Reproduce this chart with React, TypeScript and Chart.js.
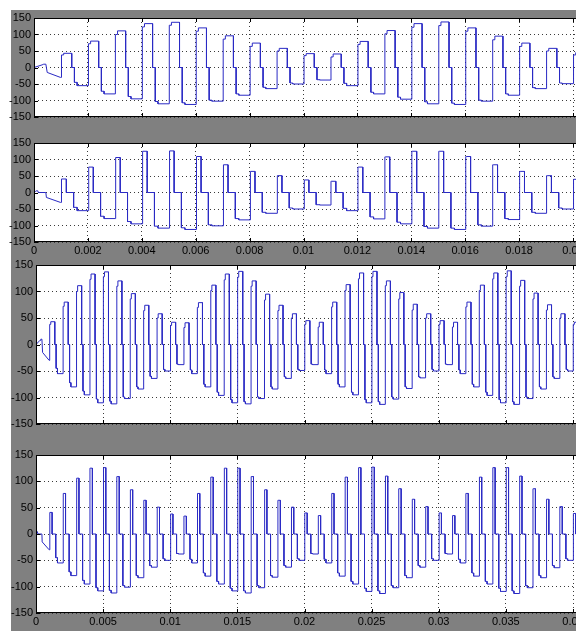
import React, { useEffect, useRef } from 'react';
import { Chart, registerables } from 'chart.js';

Chart.register(...registerables);

// ---------- axis ticks ----------
const Y_TICKS = [-150, -100, -50, 0, 50, 100, 150];
const Y_TICK_LABELS = ['-150', '-100', '-50', '0', '50', '100', '150'];
const X_TICKS_SHORT = [0, 0.002, 0.004, 0.006, 0.008, 0.01, 0.012, 0.014, 0.016, 0.018, 0.02];
const X_LABELS_SHORT = ['0', '0.002', '0.004', '0.006', '0.008', '0.01', '0.012', '0.014', '0.016', '0.018', '0.02'];
const X_TICKS_LONG = [0, 0.005, 0.01, 0.015, 0.02, 0.025, 0.03, 0.035, 0.04];
const X_LABELS_LONG = ['0', '0.005', '0.01', '0.015', '0.02', '0.025', '0.03', '0.035', '0.04'];

// ---------- waveform data (one pulse pair per 1 ms slot) ----------
const SLOT_PERIOD = 0.001;

// start-up transient (slot 0)
const A_START_T = [0, 0.0003, 0.00036, 0.00044, 0.00049, 0.00098];
const A_START_V = [0, 8, 10, 10, -15, -30];
const B_START_T = [0, 0.00005, 0.00008, 0.00014, 0.00016, 0.00044, 0.00046, 0.00098];
const B_START_V = [0, 3, 5, 5, 0, 0, -15, -30];

// edge times inside a slot: rise, step-up, fall to 0, negative start, negative step
const A_OFFSETS = [0.00002, 0.0001, 0.0004, 0.0005, 0.0006];
const B_OFFSETS = [0.00002, 0.00004, 0.0002, 0.00047, 0.0006];

// signal A (panels 1 and 3)
const A_POS_FIRST = [
  0, 38, 72, 100, 123, 128, 110, 86, 64, 50,
  36, 32, 70, 102, 122, 127, 110, 84, 64, 50,
  38, 33, 71, 102, 124, 128, 111, 86, 65, 50,
  38, 33, 71, 102, 124, 128, 110, 86, 65, 50,
  38,
];
const A_POS_PEAK = [
  0, 43, 80, 111, 133, 137, 120, 96, 74, 58,
  42, 41, 79, 112, 133, 138, 120, 95, 74, 58,
  45, 42, 80, 113, 135, 138, 120, 98, 76, 58,
  45, 42, 80, 112, 135, 139, 121, 97, 75, 58,
  42,
];
const A_NEG_FIRST = [
  -15, -45, -72, -88, -103, -107, -99, -80, -60, -47,
  -37, -48, -75, -90, -104, -108, -99, -80, -61, -47,
  -37, -48, -75, -90, -104, -108, -99, -80, -61, -47,
  -37, -48, -75, -90, -104, -108, -99, -80, -61, -47,
  -37,
];
const A_NEG_PEAK = [
  -30, -55, -80, -95, -110, -112, -102, -84, -64, -50,
  -38, -55, -80, -96, -110, -112, -102, -84, -64, -49,
  -38, -55, -80, -95, -110, -113, -103, -83, -63, -50,
  -38, -55, -80, -96, -110, -113, -102, -84, -64, -50,
  -38,
];

// signal B (panels 2 and 4)
const B_POS_PEAK = [
  0, 41, 77, 106, 125, 126, 109, 84, 64, 51,
  38, 34, 77, 108, 125, 125, 109, 84, 64, 51,
  40, 35, 77, 108, 126, 127, 110, 86, 66, 52,
  40, 35, 77, 108, 126, 126, 110, 86, 66, 52,
  39,
];
const B_NEG_FIRST = [
  -15, -45, -72, -88, -102, -107, -98, -79, -60, -47,
  -37, -48, -74, -90, -103, -108, -98, -79, -60, -47,
  -37, -48, -74, -90, -103, -108, -98, -79, -60, -47,
  -37, -48, -74, -90, -103, -108, -98, -79, -60, -47,
  -37,
];
const B_NEG_PEAK = [
  -30, -55, -79, -95, -108, -112, -101, -83, -63, -50,
  -38, -55, -80, -95, -108, -112, -102, -82, -63, -50,
  -38, -55, -80, -95, -109, -113, -102, -83, -63, -50,
  -38, -55, -80, -95, -109, -113, -102, -83, -64, -50,
  -38,
];

// ---------- style / layout ----------
const LINE_COLOR = '#2a2ac4';
const GRID_COLOR = '#3a3a3a';
const GRAY = '#808080';
const FONT = { family: '"Liberation Sans", Arial, sans-serif', size: 11 };
const PAD_T = 10;
const PAD_B = 10;
const AREA_RIGHT = 585;
const CANVAS_W = 600;

type Pt = { x: number; y: number };

function buildWave(
  startT: number[], startV: number[], offsets: number[],
  posFirst: number[], posPeak: number[], negFirst: number[], negPeak: number[],
  lastSlot: number
): Pt[] {
  const pts: Pt[] = startT.map((t, i) => ({ x: t, y: startV[i] }));
  let prev = startV[startV.length - 1];
  const [rise, step, fall, neg, negStep] = offsets;
  for (let k = 1; k <= lastSlot; k++) {
    const base = k * SLOT_PERIOD;
    pts.push(
      { x: base + rise, y: prev },
      { x: base + rise, y: posFirst[k] },
      { x: base + step, y: posFirst[k] },
      { x: base + step, y: posPeak[k] },
      { x: base + fall, y: posPeak[k] },
      { x: base + fall, y: 0 },
      { x: base + neg, y: 0 },
      { x: base + neg, y: negFirst[k] },
      { x: base + negStep, y: negFirst[k] },
      { x: base + negStep, y: negPeak[k] },
      { x: base + SLOT_PERIOD + rise, y: negPeak[k] }
    );
    prev = negPeak[k];
  }
  return pts;
}

const framePlugin = {
  id: 'matlabFrame',
  beforeDraw(chart: any) {
    const { ctx, chartArea: a } = chart;
    ctx.save();
    ctx.fillStyle = '#ffffff';
    ctx.fillRect(a.left, a.top, a.right - a.left, a.bottom - a.top);
    ctx.restore();
  },
  afterDraw(chart: any) {
    const { ctx, chartArea: a, scales } = chart;
    ctx.save();
    ctx.strokeStyle = '#000';
    ctx.lineWidth = 1;
    ctx.strokeRect(a.left + 0.5, a.top + 0.5, a.right - a.left - 1, a.bottom - a.top - 1);
    ctx.beginPath();
    for (const t of scales.x.ticks) {
      const px = Math.round(scales.x.getPixelForValue(t.value)) + 0.5;
      ctx.moveTo(px, a.top); ctx.lineTo(px, a.top + 4);
      ctx.moveTo(px, a.bottom); ctx.lineTo(px, a.bottom - 4);
    }
    for (const t of scales.y.ticks) {
      const py = Math.round(scales.y.getPixelForValue(t.value)) + 0.5;
      ctx.moveTo(a.left, py); ctx.lineTo(a.left + 4, py);
      ctx.moveTo(a.right, py); ctx.lineTo(a.right - 4, py);
    }
    ctx.stroke();
    ctx.restore();
  },
};

type PanelProps = {
  signal: 'A' | 'B';
  long: boolean;
  showLabels: boolean;
  left: number;
  top: number;
  bottom: number;
};

function Panel({ signal, long, showLabels, left, top, bottom }: PanelProps) {
  const ref = useRef<HTMLCanvasElement>(null);
  const xAxisH = showLabels ? 14 : 0;
  const h = bottom - top + PAD_T + PAD_B + xAxisH;

  useEffect(() => {
    if (!ref.current) return;
    const lastSlot = long ? 40 : 20;
    const pts = signal === 'A'
      ? buildWave(A_START_T, A_START_V, A_OFFSETS, A_POS_FIRST, A_POS_PEAK, A_NEG_FIRST, A_NEG_PEAK, lastSlot)
      : buildWave(B_START_T, B_START_V, B_OFFSETS, B_POS_PEAK, B_POS_PEAK, B_NEG_FIRST, B_NEG_PEAK, lastSlot);
    const xTicks = long ? X_TICKS_LONG : X_TICKS_SHORT;
    const xLabels = long ? X_LABELS_LONG : X_LABELS_SHORT;
    const lastTick = xTicks[xTicks.length - 1];
    const xMax = lastTick * (AREA_RIGHT - left) / (573 - left);

    const chart = new Chart(ref.current, {
      type: 'line',
      data: {
        datasets: [{
          data: pts,
          borderColor: LINE_COLOR,
          borderWidth: 1,
          pointRadius: 0,
          tension: 0,
          fill: false,
        }],
      },
      options: {
        responsive: false,
        animation: false,
        layout: { padding: { top: PAD_T, bottom: PAD_B, left: 0, right: CANVAS_W - AREA_RIGHT } },
        plugins: { legend: { display: false }, tooltip: { enabled: false } },
        scales: {
          x: {
            type: 'linear',
            min: 0,
            max: xMax,
            afterBuildTicks: (s: any) => { s.ticks = xTicks.map((v) => ({ value: v })); },
            afterFit: (s: any) => { s.height = xAxisH; },
            ticks: {
              display: showLabels,
              autoSkip: false,
              maxRotation: 0,
              padding: 2,
              color: '#000',
              font: FONT,
              callback: (_v: any, i: number) => xLabels[i],
            },
            grid: { color: GRID_COLOR, lineWidth: 1, drawTicks: false },
            border: { display: false, dash: [1, 3] },
          },
          y: {
            type: 'linear',
            min: -150,
            max: 150,
            afterBuildTicks: (s: any) => { s.ticks = Y_TICKS.map((v) => ({ value: v })); },
            afterFit: (s: any) => { s.width = left; },
            ticks: {
              autoSkip: false,
              padding: 3,
              color: '#000',
              font: FONT,
              callback: (_v: any, i: number) => Y_TICK_LABELS[i],
            },
            grid: { color: GRID_COLOR, lineWidth: 1, drawTicks: false },
            border: { display: false, dash: [1, 3] },
          },
        },
      },
      plugins: [framePlugin],
    } as any);
    return () => chart.destroy();
  }, [signal, long, showLabels, left, top, bottom, xAxisH]);

  return (
    <canvas
      ref={ref}
      width={CANVAS_W}
      height={h}
      style={{ position: 'absolute', left: 0, top: top - PAD_T, width: CANVAS_W, height: h }}
    />
  );
}

export default function App() {
  return (
    <div
      style={{
        position: 'fixed', left: 0, top: 0, width: 576, height: 631,
        overflow: 'hidden', background: '#ffffff',
      }}
    >
      <div style={{ position: 'absolute', left: 11, top: 10, right: 0, bottom: 0, background: GRAY }} />
      <Panel signal="A" long={false} showLabels={false} left={34} top={18} bottom={117} />
      <Panel signal="B" long={false} showLabels={true} left={34} top={143} bottom={242} />
      <Panel signal="A" long={true} showLabels={false} left={36} top={265} bottom={424} />
      <Panel signal="B" long={true} showLabels={true} left={36} top={455} bottom={613} />
    </div>
  );
}
